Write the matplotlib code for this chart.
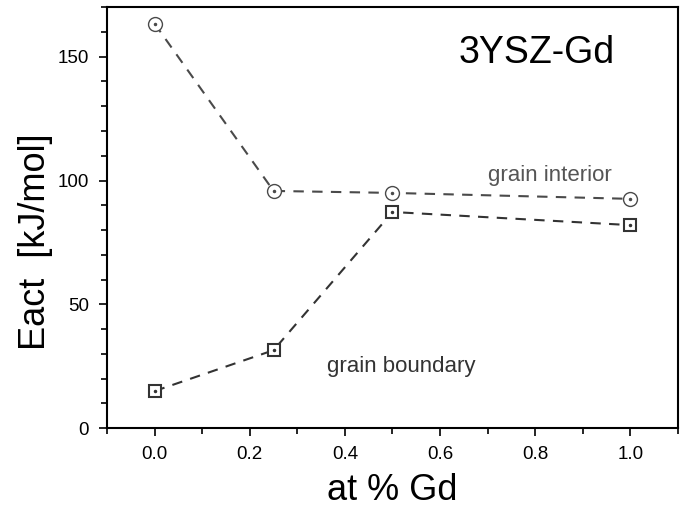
import numpy as np
import matplotlib.pyplot as plt
from matplotlib.ticker import MultipleLocator

plt.rcParams['font.family'] = ['Liberation Sans', 'DejaVu Sans']

# data
x_gi = [0.0, 0.25, 0.5, 1.0]
e_gi = [163.3, 95.8, 95.0, 92.6]   # grain interior
x_gb = [0.0, 0.25, 0.5, 1.0]
e_gb = [15.0, 31.5, 87.3, 82.0]    # grain boundary

fig = plt.figure(figsize=(6.82, 5.11), dpi=100)
ax = fig.add_axes([0.157, 0.162, 0.837, 0.824])

lc = '#4a4a4a'
ax.plot(x_gi, e_gi, ls=(0, (5, 4)), color=lc, lw=1.5, marker='o', ms=10,
        mfc='white', mec=lc, mew=1.0)
ax.plot(x_gb, e_gb, ls=(0, (5, 4)), color='#333333', lw=1.5, marker='s', ms=8,
        mfc='white', mec='#333333', mew=1.5)
# dots in the middle of the symbols
ax.plot(x_gi, e_gi, ls='none', marker='o', ms=1.5, color=lc)
ax.plot(x_gb, e_gb, ls='none', marker='o', ms=1.5, color='#333333')

ax.set_xlim(-0.1, 1.1)
ax.set_ylim(0, 170)
ax.xaxis.set_major_locator(MultipleLocator(0.2))
ax.xaxis.set_minor_locator(MultipleLocator(0.1))
ax.yaxis.set_major_locator(MultipleLocator(50))
ax.yaxis.set_minor_locator(MultipleLocator(10))
ax.tick_params(which='both', direction='out', top=False, right=False, width=1.2)
ax.tick_params(which='major', length=6, labelsize=13.5, pad=7)
ax.tick_params(which='minor', length=4)
for s in ax.spines.values():
    s.set_linewidth(1.5)

ax.set_xlabel('at % Gd', fontsize=26, labelpad=7)
ax.set_ylabel('Eact  [kJ/mol]', fontsize=26)
ax.yaxis.set_label_coords(-0.095, 0.444)

ax.text(0.89, 0.89, '3YSZ-Gd', transform=ax.transAxes, fontsize=27,
        ha='right', va='center')
ax.text(0.70, 100, 'grain interior', fontsize=16, color='#555555', ha='left')
ax.text(0.362, 22.6, 'grain boundary', fontsize=16, color='#333333', ha='left')

plt.savefig('out.png', dpi=100)
